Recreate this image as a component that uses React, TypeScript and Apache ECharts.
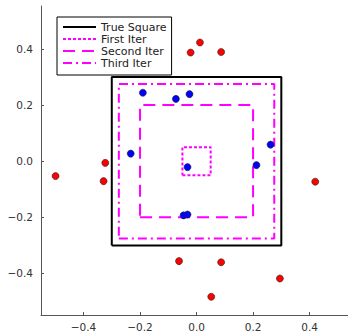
import React, { useEffect, useRef } from "react";
import * as echarts from "echarts";

const tickValues = [-0.4, -0.2, 0.0, 0.2, 0.4];

const trueSquare: number[][] = [[-0.3, -0.3], [0.3, -0.3], [0.3, 0.3], [-0.3, 0.3], [-0.3, -0.3]];
const firstIter: number[][] = [[-0.05, -0.05], [0.05, -0.05], [0.05, 0.05], [-0.05, 0.05], [-0.05, -0.05]];
const secondIter: number[][] = [[-0.2, -0.2], [0.2, -0.2], [0.2, 0.2], [-0.2, 0.2], [-0.2, -0.2]];
const thirdIter: number[][] = [[-0.275, -0.275], [0.275, -0.275], [0.275, 0.275], [-0.275, 0.275], [-0.275, -0.275]];

const outsidePoints: number[][] = [
  [0.012, 0.423], [-0.021, 0.387], [0.087, 0.389], [-0.323, -0.006], [-0.499, -0.053],
  [-0.329, -0.071], [0.42, -0.073], [-0.062, -0.356], [0.087, -0.36], [0.295, -0.418], [0.052, -0.483],
];
const insidePoints: number[][] = [
  [-0.19, 0.244], [-0.073, 0.222], [-0.025, 0.239], [-0.233, 0.027], [0.262, 0.059],
  [0.212, -0.014], [-0.032, -0.021], [-0.046, -0.193], [-0.032, -0.19],
];

const FONT = "DejaVu Sans";
const fmt = (v: number) => {
  const s = Math.abs(v) < 1e-9 ? "0.0" : v.toFixed(1);
  return s.replace("-", "\u2212");
};

export default function App() {
  const ref = useRef<HTMLDivElement>(null);
  useEffect(() => {
    if (!ref.current) return;
    const chart = echarts.init(ref.current, undefined, { renderer: "svg" });
    const axisCommon = {
      type: "value" as const,
      splitLine: { show: false },
      axisLine: { show: true, onZero: false, lineStyle: { color: "#555", width: 1 } },
      axisTick: { show: true, inside: true, length: 3, customValues: tickValues, lineStyle: { color: "#555" } },
      axisLabel: {
        customValues: tickValues,
        formatter: fmt,
        fontFamily: FONT,
        fontSize: 10.5,
        color: "#333",
      },
    };
    chart.setOption({
      animation: false,
      backgroundColor: "#fff",
      grid: { left: 41, top: 6, width: 307, height: 310, containLabel: false },
      xAxis: { ...axisCommon, min: -0.5505, max: 0.536, axisLabel: { ...axisCommon.axisLabel, margin: 6 } },
      yAxis: { ...axisCommon, min: -0.548, max: 0.553, axisLabel: { ...axisCommon.axisLabel, margin: 8 } },
      legend: {
        data: ["True Square", "First Iter", "Second Iter", "Third Iter"],
        orient: "vertical",
        left: 57,
        top: 17,
        itemWidth: 33,
        itemHeight: 12,
        itemGap: 0,
        padding: [4, 5, 6, 5],
        borderColor: "#000",
        borderWidth: 1,
        borderRadius: 0,
        backgroundColor: "#fff",
        itemStyle: { opacity: 0 },
        textStyle: { fontFamily: FONT, fontSize: 11, color: "#222", lineHeight: 12 },
      },
      series: [
        {
          name: "True Square", type: "line", data: trueSquare, symbol: "none", showSymbol: false,
          lineStyle: { color: "#000", width: 2 }, itemStyle: { color: "#000" }, z: 2,
        },
        {
          name: "First Iter", type: "line", data: firstIter, symbol: "none", showSymbol: false,
          lineStyle: { color: "#ff00ff", width: 2, type: [3, 2] }, itemStyle: { color: "#ff00ff" }, z: 2,
        },
        {
          name: "Second Iter", type: "line", data: secondIter, symbol: "none", showSymbol: false,
          lineStyle: { color: "#ff00ff", width: 2, type: [12, 7] }, itemStyle: { color: "#ff00ff" }, z: 2,
        },
        {
          name: "Third Iter", type: "line", data: thirdIter, symbol: "none", showSymbol: false,
          lineStyle: { color: "#ff00ff", width: 2, type: [9, 4, 2, 4] }, itemStyle: { color: "#ff00ff" }, z: 2,
        },
        {
          name: "outside", type: "scatter", data: outsidePoints, symbolSize: 7,
          itemStyle: { color: "#ff0000", borderColor: "#222", borderWidth: 0.6, opacity: 1 }, z: 3,
        },
        {
          name: "inside", type: "scatter", data: insidePoints, symbolSize: 7,
          itemStyle: { color: "#0000ff", borderColor: "#222", borderWidth: 0.6, opacity: 1 }, z: 3,
        },
      ],
    });
    return () => chart.dispose();
  }, []);
  return (
    <div
      ref={ref}
      style={{ position: "absolute", left: 0, top: 0, width: 348, height: 332 }}
    />
  );
}
